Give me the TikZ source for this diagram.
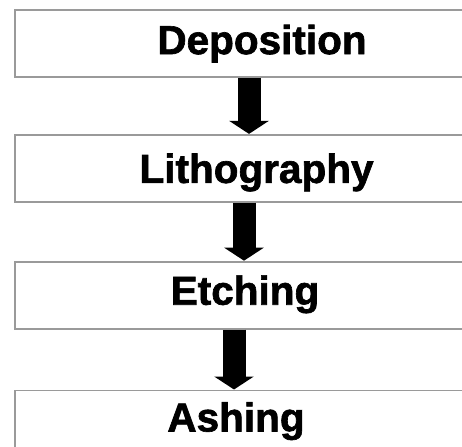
\documentclass[tikz,border=0pt]{standalone}
\usepackage{fontspec}
\setmainfont{Liberation Sans}[BoldFeatures={FakeBold=1.6}]
\usepackage{tikz}
\usetikzlibrary{arrows.meta,positioning,calc}
\usepackage{xcolor}
\definecolor{frame}{HTML}{9a9a9a}
\definecolor{ink}{HTML}{000000}

\begin{document}
\begin{tikzpicture}[x=1pt,y=-1pt,
   b/.style={draw=frame,line width=1.8pt,fill=white,minimum width=462pt,minimum height=67pt,inner sep=0pt},
   t/.style={anchor=base,font=\fontsize{40.5}{48}\selectfont\bfseries,text=ink,inner sep=0pt},
   a/.style={line width=23pt,ink,-{Triangle[length=13pt,width=39pt]}}]
  \useasboundingbox (0,0) rectangle (462,446);
  \clip (0,0) rectangle (462,446);
  \node[b] (dep) at (246,43.5) {};
  \node[b,below=56pt of dep] (lit) {};
  \node[b,below=58pt of lit] (etc) {};
  \node[b,below=60pt of etc] (ash) {};
  \node[t] (depx) at ($(dep.north)+(16,45)$) {Deposition};
  \node[t] (litx) at ($(lit.north)+(10.5,49)$) {Lithography};
  \node[t] (etcx) at ($(etc.north)+(-1,44)$) {Etching};
  \node[t] (ashx) at ($(ash.north)+(-10,42)$) {Ashing};
  \draw[a] ([xshift=3pt]dep.south) -- ([xshift=3pt]lit.north);
  \draw[a] ([xshift=-2pt]lit.south) -- ([xshift=-2pt]etc.north);
  \draw[a] ([xshift=-12pt]etc.south) -- ([xshift=-12pt]ash.north);
\end{tikzpicture}
\end{document}
